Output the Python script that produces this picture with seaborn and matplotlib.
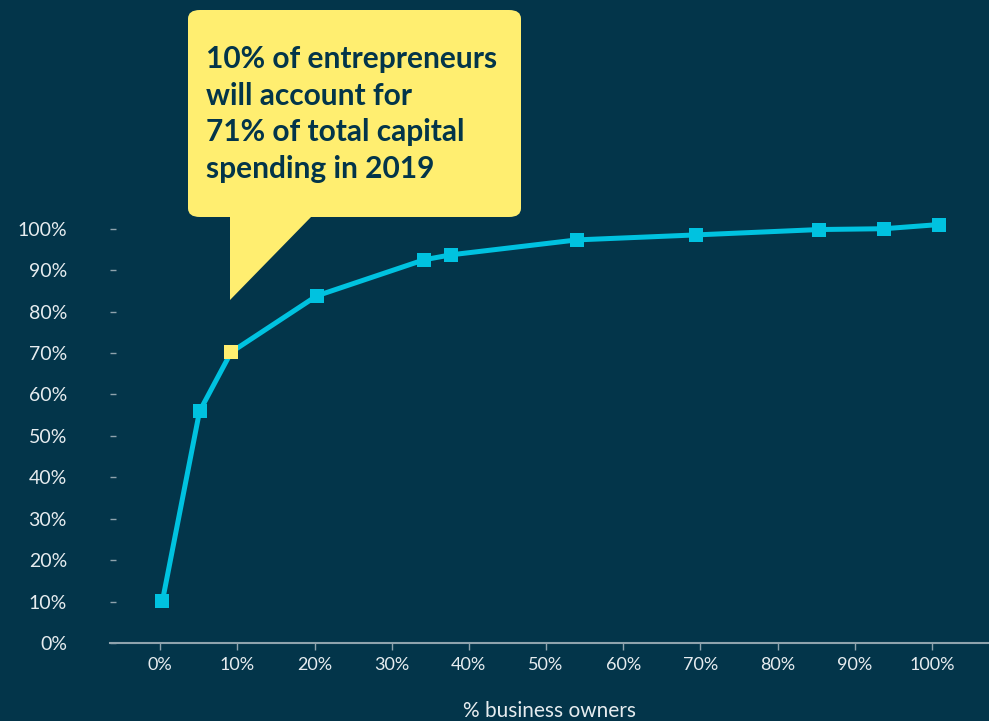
import matplotlib
matplotlib.use("Agg")
import matplotlib.pyplot as plt
from matplotlib.patches import FancyBboxPatch, Polygon
import seaborn as sns
import pandas as pd

# Data
owners_pct = [0.3, 5.1, 9.2, 20.3, 34.2, 37.7, 54.0, 69.4, 85.4, 93.8, 100.9]
capital_pct = [10.2, 55.9, 70.2, 83.8, 92.5, 93.7, 97.3, 98.5, 99.8, 100.0, 101.0]
highlight_idx = 2
x_ticks = [0, 10, 20, 30, 40, 50, 60, 70, 80, 90, 100]
y_ticks = [0, 10, 20, 30, 40, 50, 60, 70, 80, 90, 100]
x_label = "% business owners"
callout_text = "10% of entrepreneurs\nwill account for\n71% of total capital\nspending in 2019"

BG = "#03354A"
CYAN = "#00C2E0"
YELLOW = "#FFEE70"
NAVY = "#03354A"
TXT = "#E6ECEF"
AXIS = "#8FA3AD"

sns.set_theme(style="dark")
plt.rcParams['font.family'] = ['Lato', 'DejaVu Sans']

df = pd.DataFrame({"owners": owners_pct, "capital": capital_pct})

fig = plt.figure(figsize=(9.89, 7.21), dpi=100, facecolor=BG)
ax = fig.add_axes([110/989, 1-643/721, 1-110/989, (643-208)/721])
ax.set_facecolor(BG)

sns.lineplot(data=df, x="owners", y="capital", ax=ax, color=CYAN, lw=3.6,
             marker="s", markersize=10, markeredgewidth=0, sort=False, zorder=3)
hl = df.iloc[[highlight_idx]]
sns.scatterplot(data=hl, x="owners", y="capital", ax=ax, color=YELLOW,
                marker="s", s=100, linewidth=0, zorder=4)

ax.set_xlim(-6.5, 107.4)
ax.set_ylim(0, 105)
ax.set_xticks(x_ticks)
ax.set_xticklabels([f"{v}%" for v in x_ticks])
ax.set_yticks(y_ticks)
ax.set_yticklabels([f"{v}%" for v in y_ticks])
ax.grid(False)
for s in ["top", "right", "left"]:
    ax.spines[s].set_visible(False)
ax.spines["bottom"].set_color(AXIS)
ax.spines["bottom"].set_linewidth(1.5)

ax.tick_params(axis="x", colors=AXIS, labelcolor=TXT, direction="out",
               length=5, width=1, pad=5, labelsize=13, bottom=True)
ax.tick_params(axis="y", colors=AXIS, labelcolor=TXT, direction="in",
               length=4, width=1, pad=31, labelsize=14, left=True)

ax.set_xlabel(x_label, color=TXT, fontsize=15, labelpad=20)
ax.set_ylabel("")

# Callout bubble (figure pixel coords)
W, H = 989, 721
def fx(px): return px / W
def fy(py): return 1 - py / H

box = FancyBboxPatch((fx(188), fy(217)), fx(521) - fx(188), fy(10) - fy(217),
                     boxstyle="round,pad=0,rounding_size=0.012",
                     transform=fig.transFigure, facecolor=YELLOW,
                     edgecolor="none", zorder=5)
fig.patches.append(box)
tail = Polygon([(fx(230), fy(216)), (fx(312), fy(216)), (fx(230), fy(300))],
               closed=True, transform=fig.transFigure, facecolor=YELLOW,
               edgecolor="none", zorder=5)
fig.patches.append(tail)
fig.text(fx(206), fy(45), callout_text, color=NAVY, fontsize=21.5,
         fontweight="bold", va="top", ha="left", linespacing=1.38, zorder=6)

fig.savefig("out.png", dpi=100, facecolor=BG)
